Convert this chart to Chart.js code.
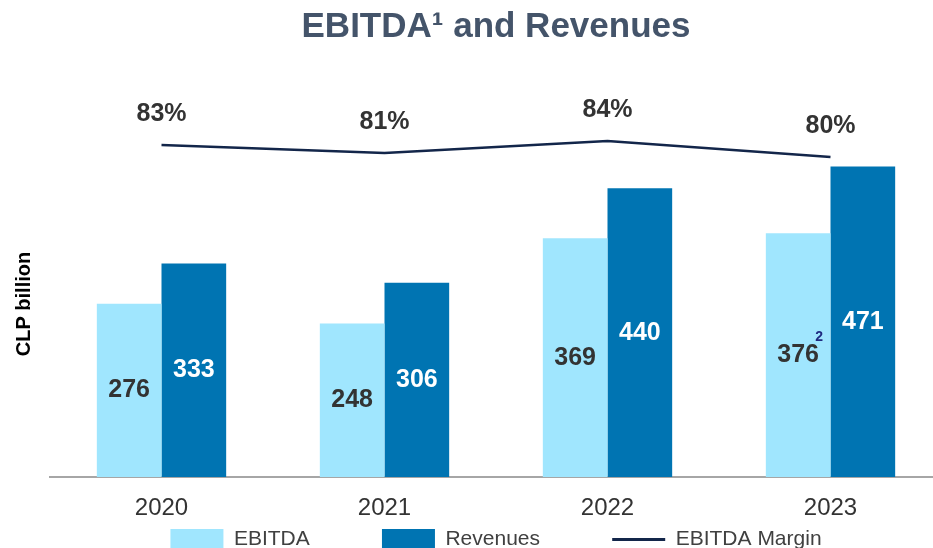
<!DOCTYPE html>
<html>
<head>
<meta charset="utf-8">
<script src="https://cdn.jsdelivr.net/npm/chart.js@4/dist/chart.umd.min.js"></script>
<style>
  html, body { margin: 0; padding: 0; background: #fff; overflow: hidden; }
  #chart { display: block; }
</style>
</head>
<body>
<canvas id="chart" width="944" height="560"></canvas>
<script>
const years = ['2020', '2021', '2022', '2023'];
const ebitda = [276, 248, 369, 376];
const revenues = [333, 306, 440, 471];
const margin = [83, 81, 84, 80];
const ebitdaNotes = ['', '', '', '2'];

const LIGHT = '#A0E6FE';
const DARK = '#0074B2';
const NAVY = '#13264A';
const PAD = '           ';

// value labels on bars, % labels over the margin line, axis caption
const labelPlugin = {
  id: 'labels',
  afterDatasetsDraw(chart) {
    const ctx = chart.ctx;
    const bottom = chart.chartArea.bottom;
    ctx.save();
    ctx.textAlign = 'center';
    ctx.textBaseline = 'middle';
    ctx.font = 'bold 25px "Liberation Sans", Arial, sans-serif';

    chart.getDatasetMeta(0).data.forEach((bar, i) => {
      const y = (bar.y + Math.min(bar.base, bottom)) / 2;
      ctx.fillStyle = '#333333';
      ctx.fillText(ebitda[i], bar.x, y);
      if (ebitdaNotes[i]) {
        const w = ctx.measureText(String(ebitda[i])).width;
        ctx.save();
        ctx.font = 'bold 14px "Liberation Sans", Arial, sans-serif';
        ctx.fillStyle = '#1F2A80';
        ctx.fillText(ebitdaNotes[i], bar.x + w / 2, y - 18);
        ctx.restore();
      }
    });

    chart.getDatasetMeta(1).data.forEach((bar, i) => {
      ctx.fillStyle = '#ffffff';
      ctx.fillText(revenues[i], bar.x, (bar.y + Math.min(bar.base, bottom)) / 2);
    });

    chart.getDatasetMeta(2).data.forEach((pt, i) => {
      ctx.fillStyle = '#333333';
      ctx.fillText(margin[i] + '%', pt.x, pt.y - 31);
    });

    ctx.translate(24, 304);
    ctx.rotate(-Math.PI / 2);
    ctx.fillStyle = '#000000';
    ctx.font = 'bold 20px "Liberation Sans", Arial, sans-serif';
    ctx.fillText('CLP billion', 0, 0);
    ctx.restore();
  }
};

Chart.defaults.font.family = '"Liberation Sans", Arial, sans-serif';

new Chart(document.getElementById('chart'), {
  type: 'bar',
  data: {
    labels: years,
    datasets: [
      {
        label: 'EBITDA',
        data: ebitda,
        backgroundColor: LIGHT,
        borderWidth: 0,
        categoryPercentage: 0.58,
        barPercentage: 1,
        yAxisID: 'y',
        order: 2
      },
      {
        label: 'Revenues',
        data: revenues,
        backgroundColor: DARK,
        borderWidth: 0,
        categoryPercentage: 0.58,
        barPercentage: 1,
        yAxisID: 'y',
        order: 2
      },
      {
        type: 'line',
        label: 'EBITDA Margin',
        data: margin,
        borderColor: NAVY,
        backgroundColor: NAVY,
        borderWidth: 2.5,
        pointRadius: 0,
        tension: 0,
        yAxisID: 'y2',
        order: 1
      }
    ]
  },
  options: {
    responsive: false,
    animation: false,
    devicePixelRatio: 1,
    layout: { padding: { left: 50, right: 2, top: 0, bottom: 0 } },
    scales: {
      x: {
        grid: { display: false, drawTicks: false, tickLength: 0 },
        border: { display: true, color: '#A6A6A6', width: 2 },
        ticks: { color: '#333333', font: { size: 24 }, padding: 17 },
        afterFit(scale) { scale.height = 44; }
      },
      y: { display: false, min: 30, max: 598 },
      y2: { display: false, min: 0, max: 100 }
    },
    plugins: {
      title: {
        display: true,
        text: 'EBITDA\u00B9 and Revenues',
        color: '#44546A',
        font: { size: 35, weight: 'bold' },
        padding: { top: 6, bottom: 29 }
      },
      legend: {
        position: 'bottom',
        labels: {
          color: '#404040',
          font: { size: 21 },
          padding: 8,
          usePointStyle: true,
          pointStyleWidth: 53,
          boxHeight: 21,
          sort: (a, b) => a.datasetIndex - b.datasetIndex,
          generateLabels(chart) {
            const items = Chart.defaults.plugins.legend.labels.generateLabels(chart);
            items.forEach(it => {
              if (it.datasetIndex < 2) {
                it.pointStyle = 'rect';
                it.lineWidth = 0;
                it.text = it.text + PAD;
              } else {
                it.pointStyle = 'line';
                it.lineWidth = 3;
                it.strokeStyle = NAVY;
              }
            });
            return items;
          }
        }
      },
      tooltip: { enabled: false }
    }
  },
  plugins: [labelPlugin]
});
</script>
</body>
</html>
